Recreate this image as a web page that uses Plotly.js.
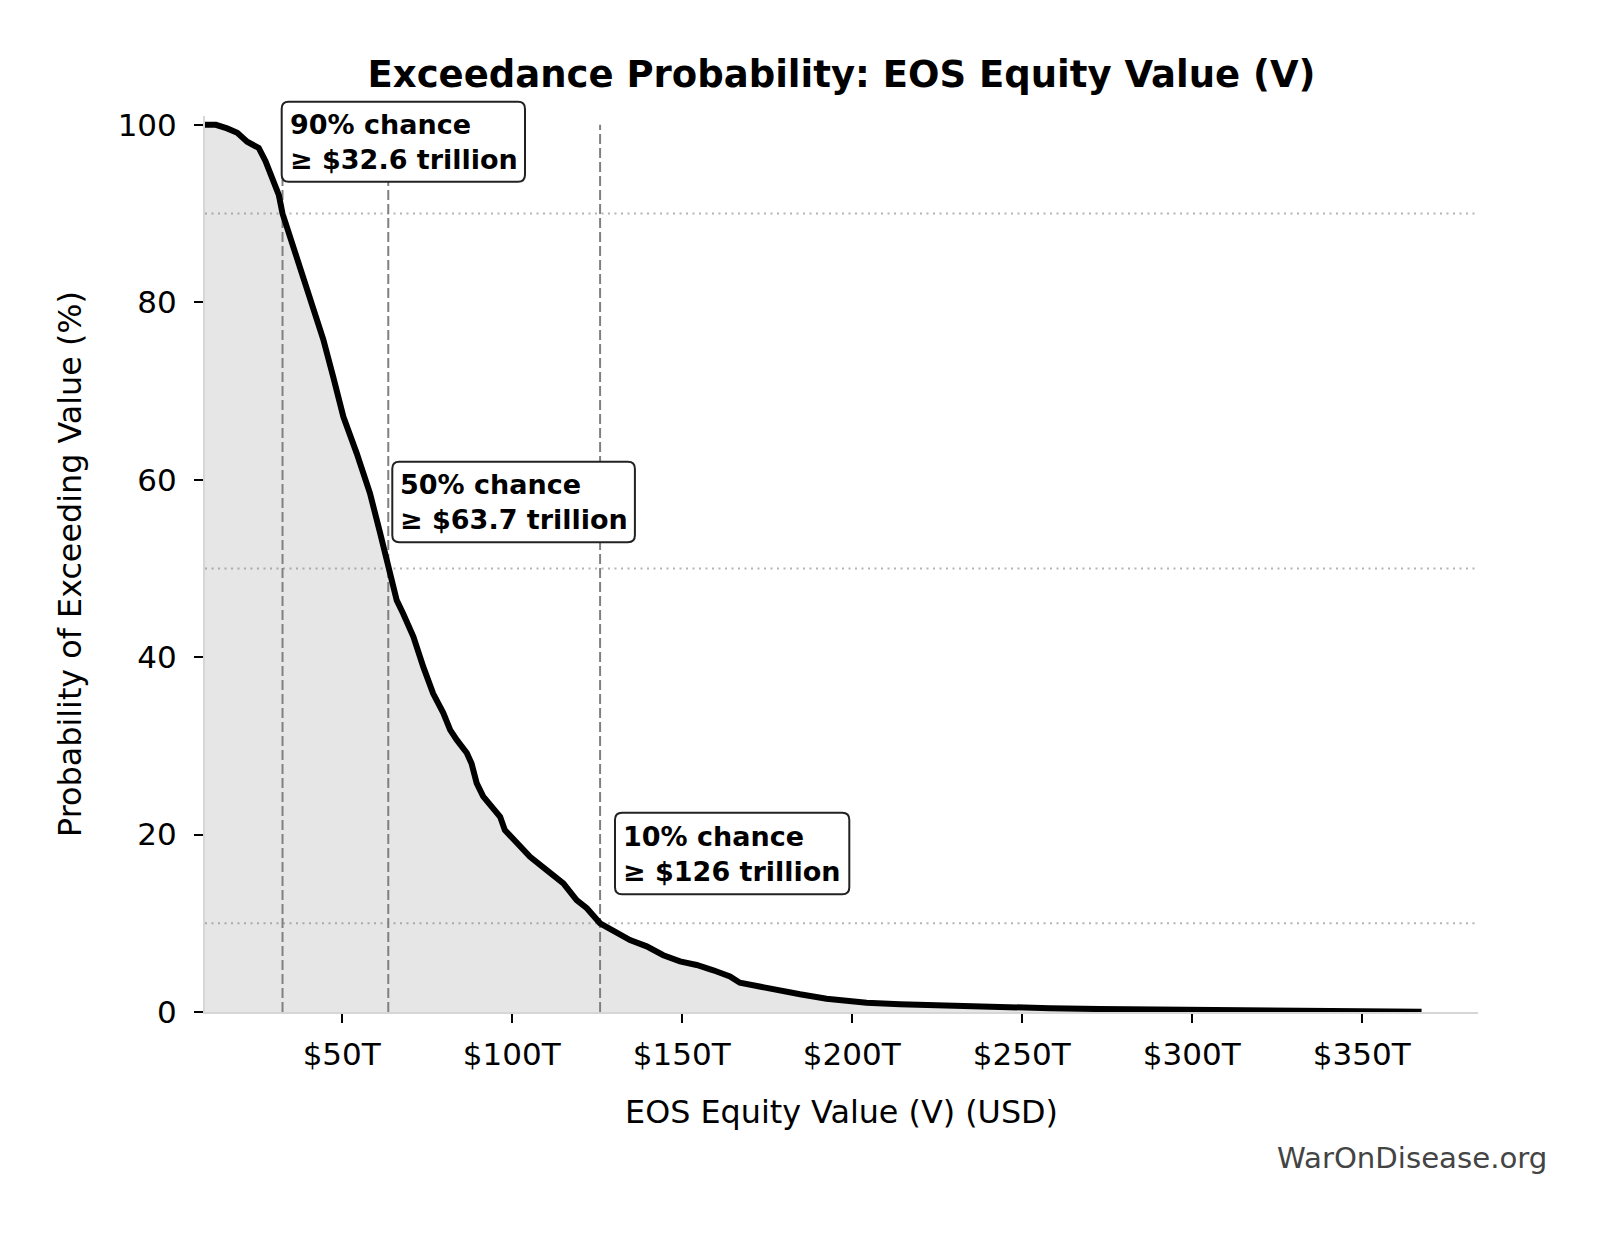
<!DOCTYPE html>
<html>
<head>
<meta charset="utf-8">
<script src="https://cdn.plot.ly/plotly-3.0.1.min.js"></script>
<style>
  html, body { margin: 0; padding: 0; background: #ffffff; }
  #chart { width: 1603px; height: 1233px; }
</style>
</head>
<body>
<div id="chart"></div>
<script>
// EOS equity value (trillions USD) and probability of exceeding it (%)
const equityValueT = [9.8, 13, 16.3, 19.3, 22.2, 25.6, 27.6, 29.6, 31.5, 32.6, 35.0, 37.4, 39.9, 41.9, 44.6, 47.5, 50.5, 54.4, 58.3, 61.3, 63.7, 66.2, 68.1, 71.1, 74.0, 76.9, 79.9, 81.9, 83.8, 86.8, 88.2, 89.7, 91.6, 94.6, 96.6, 98.0, 100.5, 105.4, 110.3, 115.2, 119.1, 122.1, 126.0, 129.9, 134.8, 139.7, 144.6, 149.5, 154.4, 159.3, 164.2, 167.1, 172.1, 178, 184.8, 192.6, 196.6, 204.4, 214.2, 228.9, 243.6, 258.3, 273, 290, 310, 330, 350, 367.6];
const exceedPct = [100, 100, 99.6, 99.1, 98.1, 97.4, 95.9, 94.0, 92.1, 90.0, 87.2, 84.2, 81.6, 79.3, 75.8, 71.6, 67.1, 63.0, 58.5, 54.0, 50.0, 46.4, 44.9, 42.3, 38.9, 35.9, 33.7, 31.8, 30.7, 29.2, 28.0, 25.8, 24.3, 22.8, 22.0, 20.5, 19.4, 17.5, 16.0, 14.5, 12.6, 11.7, 10.0, 9.2, 8.1, 7.4, 6.4, 5.7, 5.3, 4.7, 4.0, 3.3, 2.9, 2.4, 2.0, 1.5, 1.3, 1.05, 0.87, 0.68, 0.5, 0.42, 0.33, 0.25, 0.17, 0.12, 0.08, 0.03];

// Percentile markers
const markerPct = [90, 50, 10];
const markerValueT = [32.6, 63.7, 126];
const markerLabelValue = ["32.6", "63.7", "126"];

// Axis ticks
const xTickVals = [50, 100, 150, 200, 250, 300, 350];
const xTickText = ["$50T", "$100T", "$150T", "$200T", "$250T", "$300T", "$350T"];
const yTickVals = [0, 20, 40, 60, 80, 100];

const FONT = "DejaVu Sans, Verdana, sans-serif";

// plot geometry (layout only)
const X_RANGE = [9.8, 384.2], Y_RANGE = [0, 101];
const M = { l: 205, r: 125, t: 116, b: 221 };
const W = 1603, H = 1233;
const plotW = W - M.l - M.r, plotH = H - M.t - M.b;
const pxToPaperX = px => (px - M.l) / plotW;
const pxToPaperY = py => (H - M.b - py) / plotH;

function roundedBoxPath(x0, x1, y0, y1, r) {
  // pixel box -> path in paper coordinates with rounded corners
  const pts = [
    ["M", x0 + r, y0], ["L", x1 - r, y0], ["Q", x1, y0, x1, y0 + r],
    ["L", x1, y1 - r], ["Q", x1, y1, x1 - r, y1], ["L", x0 + r, y1],
    ["Q", x0, y1, x0, y1 - r], ["L", x0, y0 + r], ["Q", x0, y0, x0 + r, y0]
  ];
  return pts.map(p => {
    const cmd = p[0], c = p.slice(1);
    const out = [];
    for (let i = 0; i < c.length; i += 2) out.push(pxToPaperX(c[i]).toFixed(5) + "," + pxToPaperY(c[i + 1]).toFixed(5));
    return cmd + out.join(" ");
  }).join(" ") + " Z";
}

const traces = [
  {
    x: equityValueT, y: exceedPct, type: "scatter", mode: "lines",
    fill: "tozeroy", fillcolor: "rgba(128,128,128,0.2)",
    line: { width: 0, color: "rgba(0,0,0,0)" }, hoverinfo: "skip", showlegend: false
  },
  {
    x: equityValueT, y: exceedPct, type: "scatter", mode: "lines",
    line: { width: 6, color: "#000000" }, showlegend: false
  }
];

const shapes = [];
markerValueT.forEach(v => {
  shapes.push({ type: "line", layer: "below", xref: "x", yref: "y", x0: v, x1: v, y0: 0, y1: 100,
    line: { color: "#808080", width: 2, dash: "10px,4px" } });
});
markerPct.forEach(p => {
  shapes.push({ type: "line", layer: "below", xref: "paper", yref: "y", x0: 0, x1: 1, y0: p, y1: p,
    line: { color: "#b4b4b4", width: 2, dash: "2px,4.5px" } });
});

// rounded label boxes (pixel extents)
const boxPx = [
  [281.7, 525.0, 101.7, 181.7],
  [392.3, 634.9, 461.7, 542.3],
  [615.0, 849.3, 812.7, 894.3]
];
boxPx.forEach(b => {
  shapes.push({ type: "path", layer: "above", xref: "paper", yref: "paper",
    path: roundedBoxPath(b[0], b[1], b[2], b[3], 7),
    fillcolor: "#ffffff", line: { color: "#222222", width: 2 } });
});

const annotations = markerPct.map((p, i) => ({
  xref: "paper", yref: "paper", x: pxToPaperX(boxPx[i][0]), y: pxToPaperY((boxPx[i][2] + boxPx[i][3]) / 2),
  xanchor: "left", yanchor: "middle", align: "left", showarrow: false,
  text: p + "% chance<br>≥ $" + markerLabelValue[i] + " trillion",
  font: { family: FONT, size: 27, color: "#000000", weight: "bold" },
  bgcolor: "rgba(0,0,0,0)", borderwidth: 2, bordercolor: "rgba(0,0,0,0)", borderpad: 6
}));
annotations.push({
  xref: "paper", yref: "paper", x: 1.0555, y: -0.1629, xanchor: "right", yanchor: "middle",
  showarrow: false, text: "WarOnDisease.org",
  font: { family: FONT, size: 29.2, color: "#444444" }
});

const layout = {
  width: W, height: H,
  paper_bgcolor: "#ffffff", plot_bgcolor: "#ffffff",
  margin: M,
  showlegend: false,
  font: { family: FONT, color: "#000000" },
  title: {
    text: "Exceedance Probability: EOS Equity Value (V)",
    x: 0.5, xref: "paper", xanchor: "center",
    y: 1 - 73.6 / H, yref: "container", yanchor: "middle",
    font: { family: FONT, size: 37, weight: "bold", color: "#000000" }
  },
  xaxis: {
    range: X_RANGE, tickvals: xTickVals, ticktext: xTickText,
    showgrid: false, zeroline: false, showline: true, linecolor: "#d6d6d6", linewidth: 2,
    ticks: "outside", ticklen: 9, tickwidth: 2, tickcolor: "#000000", ticklabelstandoff: 5,
    tickfont: { family: FONT, size: 31, color: "#000000" },
    title: { text: "EOS Equity Value (V) (USD)", standoff: 30, font: { family: FONT, size: 31.8, color: "#000000" } },
    automargin: false
  },
  yaxis: {
    range: Y_RANGE, tickvals: yTickVals,
    showgrid: false, zeroline: false, showline: true, linecolor: "#d6d6d6", linewidth: 2,
    ticks: "outside", ticklen: 9, tickwidth: 2, tickcolor: "#000000", ticklabelstandoff: 11,
    tickfont: { family: FONT, size: 31, color: "#000000" },
    title: { text: "Probability of Exceeding Value (%)", standoff: 26, font: { family: FONT, size: 31.8, color: "#000000" } },
    automargin: false
  },
  shapes: shapes,
  annotations: annotations
};

Plotly.newPlot("chart", traces, layout, { displayModeBar: false, staticPlot: true });
</script>
</body>
</html>
